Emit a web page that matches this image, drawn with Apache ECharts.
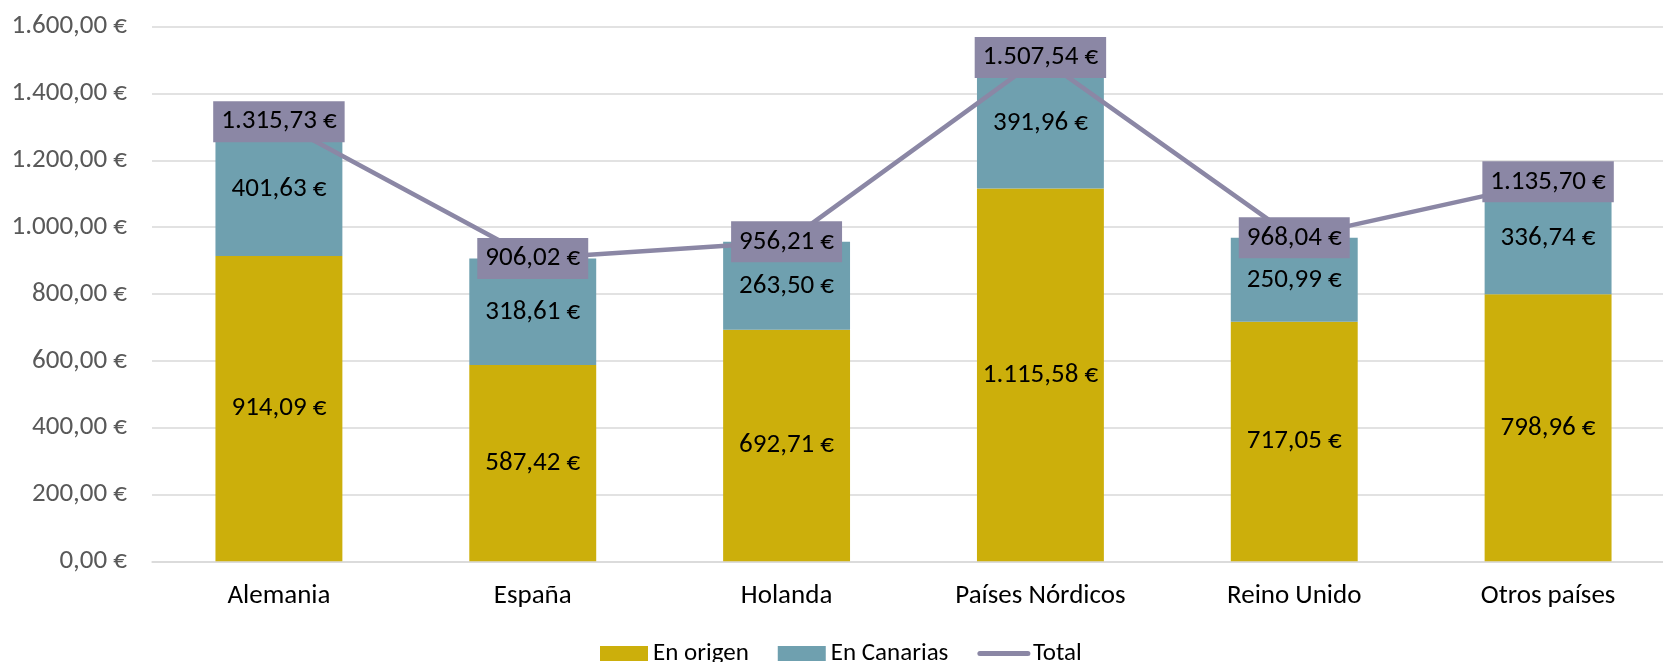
<!DOCTYPE html>
<html>
<head>
<meta charset="utf-8">
<script src="https://cdn.jsdelivr.net/npm/echarts@6/dist/echarts.min.js"></script>
<style>
  html, body { margin: 0; padding: 0; background: #fff; }
  #chart { width: 1663px; height: 662px; }
</style>
</head>
<body>
<div id="chart"></div>
<script>
  // datos del gráfico
  var paises = ['Alemania', 'España', 'Holanda', 'Países Nórdicos', 'Reino Unido', 'Otros países'];
  var enOrigen = [914.09, 587.42, 692.71, 1115.58, 717.05, 798.96];
  var enCanarias = [401.63, 318.61, 263.50, 391.96, 250.99, 336.74];
  var total = [1315.73, 906.02, 956.21, 1507.54, 968.04, 1135.70];

  var fuente = 'Carlito, Calibri, Lato, sans-serif';

  // formato español: 1.234,56 €
  function euros(v) {
    var partes = Number(v).toFixed(2).split('.');
    partes[0] = partes[0].replace(/\B(?=(\d{3})+(?!\d))/g, '.');
    return partes[0] + ',' + partes[1] + ' €';
  }

  var mychart = echarts.init(document.getElementById('chart'));
  var option = {
    animation: false,
    textStyle: { fontFamily: fuente },
    // el área de trazado sale un poco por la derecha, como en el original
    grid: { left: 152, right: -12, top: 26.7, bottom: 100.7, outerBoundsMode: 'none', containLabel: false },
    legend: {
      left: 595,
      top: 636,
      itemWidth: 48,
      itemHeight: 15,
      itemGap: 29,
      textStyle: { fontSize: 25, color: '#000', fontFamily: fuente },
      data: [
        { name: 'En origen', icon: 'rect' },
        { name: 'En Canarias', icon: 'rect' },
        { name: 'Total', lineStyle: { width: 5, cap: 'round' } }
      ]
    },
    xAxis: {
      type: 'category',
      data: paises,
      axisTick: { show: false },
      axisLine: { lineStyle: { color: '#d9d9d9', width: 1.5 } },
      axisLabel: { fontSize: 27, color: '#000', margin: 21, fontFamily: fuente }
    },
    yAxis: {
      type: 'value',
      min: 0,
      max: 1600,
      interval: 200,
      axisLabel: { fontSize: 27, color: '#595959', margin: 25, formatter: euros, fontFamily: fuente },
      splitLine: { lineStyle: { color: '#d9d9d9', width: 1.5 } }
    },
    series: [
      {
        name: 'En origen',
        type: 'bar',
        stack: 'gasto',
        barWidth: '50%',
        data: enOrigen,
        itemStyle: { color: '#ccaf0b' },
        label: { show: true, position: 'inside', fontSize: 27, color: '#000', formatter: function (p) { return euros(p.value); } }
      },
      {
        name: 'En Canarias',
        type: 'bar',
        stack: 'gasto',
        data: enCanarias,
        itemStyle: { color: '#6fa0af' },
        label: { show: true, position: 'inside', fontSize: 27, color: '#000', formatter: function (p) { return euros(p.value); } }
      },
      {
        name: 'Total',
        type: 'line',
        data: total,
        symbol: 'circle',
        symbolSize: 2,
        itemStyle: { color: 'rgba(0,0,0,0)' },
        lineStyle: { color: '#8b87a5', width: 4.5 },
        z: 5,
        label: {
          show: true,
          position: 'inside',
          fontSize: 27,
          lineHeight: 27,
          color: '#000',
          backgroundColor: '#8b87a5',
          padding: [7, 8],
          formatter: function (p) { return euros(p.value); }
        }
      }
    ]
  };
  mychart.setOption(option);
</script>
</body>
</html>
